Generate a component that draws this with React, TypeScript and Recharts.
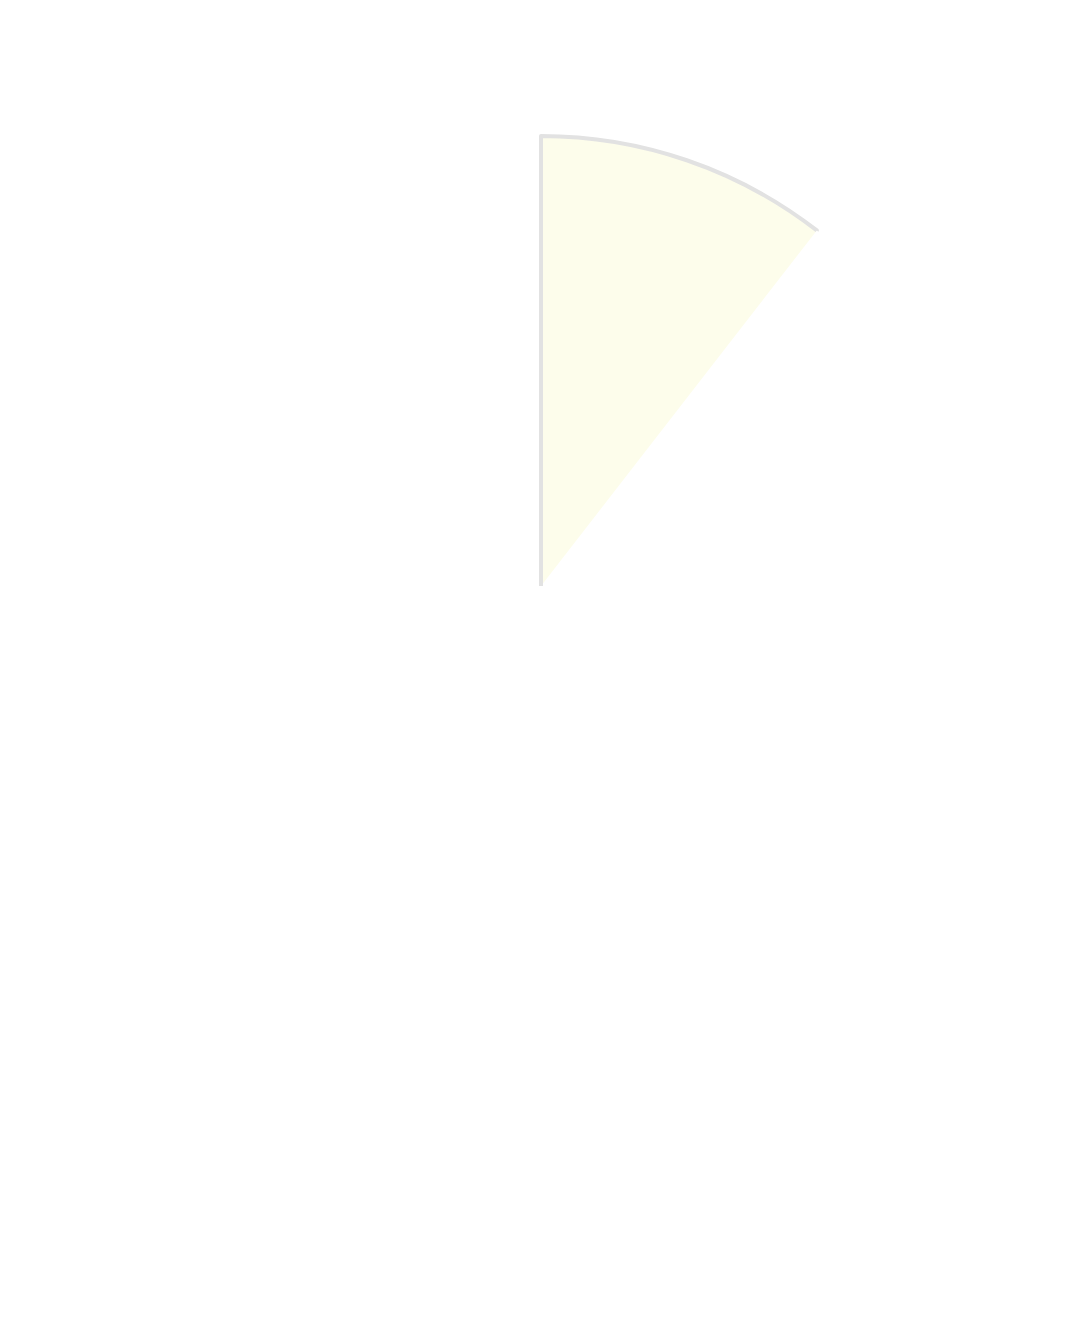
import React from 'react';
import { PieChart, Pie, Cell } from 'recharts';

// slice data: one visible wedge, the rest of the circle left blank
const sliceNames = ['share', 'rest'];
const sliceValues = [10.5, 89.5];
const sliceFills = ['#FDFDEB', 'none'];

const data = sliceNames.map((name, i) => ({ name, value: sliceValues[i] }));

const RADIUS = 450;
// outline only the outer arc and the left (12 o'clock) edge
const arcLen = (RADIUS * 2 * Math.PI * sliceValues[0]) / (sliceValues[0] + sliceValues[1]);

const App: React.FC = () => {
  return (
    <div style={{ width: 1064, height: 1328 }}>
      <PieChart width={1064} height={1328}>
        <Pie
          data={data}
          dataKey="value"
          nameKey="name"
          cx={528}
          cy={573}
          outerRadius={RADIUS}
          startAngle={90}
          endAngle={-270}
          isAnimationActive={false}
          label={false}
          labelLine={false}
        >
          {data.map((d, i) => (
            <Cell
              key={d.name}
              fill={sliceFills[i]}
              stroke={i === 0 ? '#e2e2e2' : 'none'}
              strokeWidth={4}
              strokeLinejoin="round"
              strokeDasharray={i === 0 ? `${arcLen} ${RADIUS} ${RADIUS + 20}` : undefined}
            />
          ))}
        </Pie>
      </PieChart>
    </div>
  );
};

export default App;
